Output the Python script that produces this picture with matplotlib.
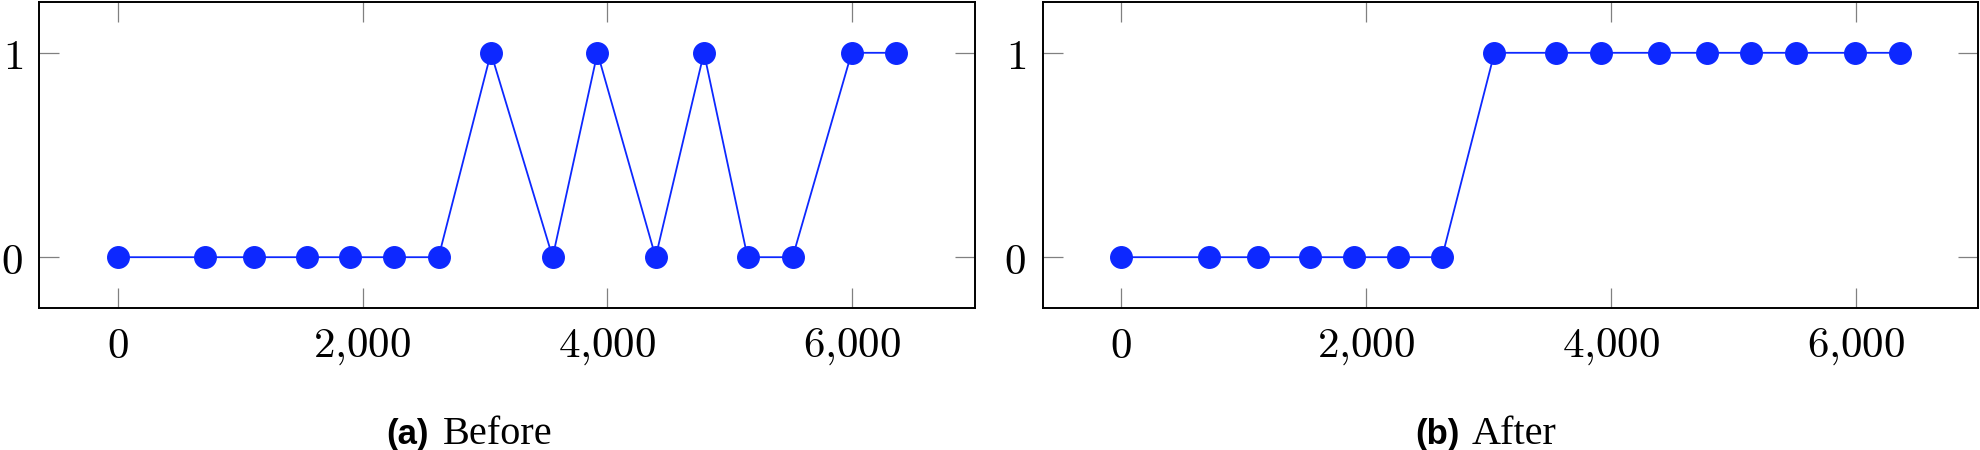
import numpy as np
import matplotlib
matplotlib.use("Agg")
from matplotlib import pyplot as plt
from matplotlib.ticker import FuncFormatter

# data
steps = [0, 716, 1116, 1544, 1898, 2257, 2620, 3048, 3552, 3918, 4393, 4788, 5144, 5512, 5994, 6360]
before = [0, 0, 0, 0, 0, 0, 0, 1, 0, 1, 0, 1, 0, 0, 1, 1]
after = [0, 0, 0, 0, 0, 0, 0, 1, 1, 1, 1, 1, 1, 1, 1, 1]
xticks = [0, 2000, 4000, 6000]
yticks = [0, 1]
labels = ["(a)", "(b)"]
titles = ["Before", "After"]

plt.rcParams['mathtext.fontset'] = 'cm'
BLUE = '#0d28ff'
W, H = 1980, 450

def fmt(v, pos):
    s = "{:,}".format(int(round(v))).replace(",", "{,}")
    return "$" + s + "$"

fig = plt.figure(figsize=(19.8, 4.5), dpi=100)

# axes boxes in pixels: left, right
boxes = [(39.4, 974.8), (1042.9, 1978.3)]
top_px, bot_px = 1.7, 308.3

for i, ys in enumerate([before, after]):
    l, r = boxes[i]
    ax = fig.add_axes([l / W, 1 - bot_px / H, (r - l) / W, (bot_px - top_px) / H])
    ax.plot(steps, ys, color=BLUE, lw=1.3, marker='o', ms=15.5, mec=BLUE, mfc=BLUE, clip_on=False)
    ax.set_xlim(-640, 7000)
    ax.set_ylim(-0.25, 1.25)
    ax.set_xticks(xticks)
    ax.set_yticks(yticks)
    ax.xaxis.set_major_formatter(FuncFormatter(fmt))
    ax.yaxis.set_major_formatter(FuncFormatter(fmt))
    ax.tick_params(direction='in', length=14.5, width=0.9, color='#808080',
                   top=True, right=True, labelsize=31, pad=12, labelcolor='black')
    for sp in ax.spines.values():
        sp.set_linewidth(1.4)
        sp.set_color('black')

# sub captions: bold sans label + serif title
cap = [(429, 443), (1460, 1472)]
for i in range(2):
    fig.text(cap[i][0] / W, 1 - 444 / H, labels[i], ha='right', va='baseline',
             fontsize=25, fontweight='bold', family='Liberation Sans')
    fig.text(cap[i][1] / W, 1 - 444 / H, titles[i], ha='left', va='baseline',
             fontsize=29, family='Liberation Serif')

fig.savefig("out.png", dpi=100)
